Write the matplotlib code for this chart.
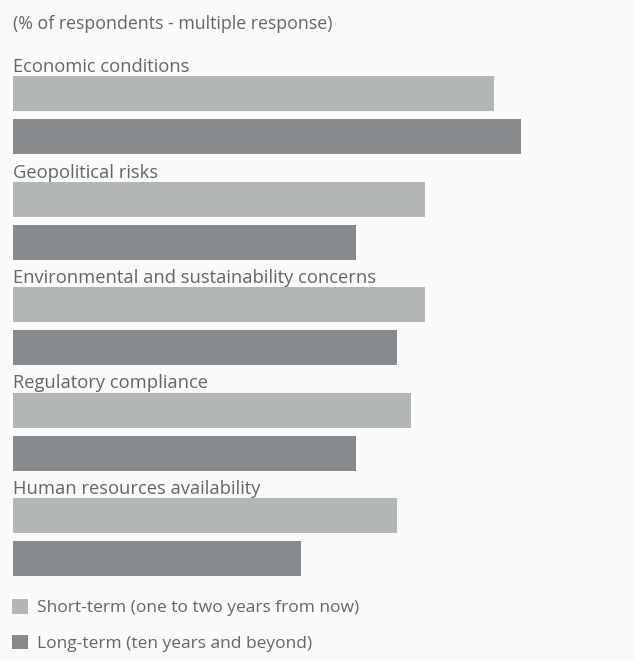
import matplotlib
matplotlib.use("Agg")
import matplotlib.pyplot as plt
import numpy as np

# data (% of respondents)
categories = ["Economic conditions", "Geopolitical risks",
              "Environmental and sustainability concerns",
              "Regulatory compliance", "Human resources availability"]
short_term = [35, 30, 30, 29, 28]
long_term = [37, 25, 28, 25, 21]
series_labels = ["Short-term (one to two years from now)",
                 "Long-term (ten years and beyond)"]

# style
BG = "#fafafa"
C_SHORT = "#b2b6b6"
C_LONG = "#878a8d"
TXT = "#636567"
FS = 13.2
plt.rcParams['font.family'] = ['Open Sans', 'DejaVu Sans']

W, H = 634, 660
fig = plt.figure(figsize=(W / 100, H / 100), dpi=100, facecolor=BG)

# bars from y=76 to y=576, x from 13
top_px, bot_px, left_px = 76, 576, 13
ax = fig.add_axes([left_px / W, (H - bot_px) / H, (W - left_px) / W, (bot_px - top_px) / H])
ax.set_facecolor(BG)

gap = 105.5    # group pitch in px
bh = 35        # bar height
off = 43       # offset of second bar
y = np.arange(len(categories)) * gap
ax.barh(y + bh / 2, short_term, height=bh, color=C_SHORT, label=series_labels[0])
ax.barh(y + off + bh / 2, long_term, height=bh, color=C_LONG, label=series_labels[1])

ax.set_ylim(bot_px - top_px, 0)
ax.set_xlim(0, (W - left_px) / 13.73)
ax.axis('off')

for yi, cat in zip(y, categories):
    ax.text(0, yi - 4, cat, ha='left', va='baseline', fontsize=FS, color=TXT)

fig.text(13 / W, 1 - 29 / H, "(% of respondents - multiple response)",
         ha='left', va='baseline', fontsize=12.8, color=TXT)

handles, labels = ax.get_legend_handles_labels()
fig.legend(handles, labels, loc='upper left', bbox_to_anchor=(12 / W, 1 - 599 / H),
           frameon=False, fontsize=12.5, labelcolor=TXT, handlelength=0.92,
           handleheight=0.92, handletextpad=0.5, labelspacing=1.05,
           borderpad=0, borderaxespad=0)

fig.savefig("out.png", dpi=100, facecolor=BG)
